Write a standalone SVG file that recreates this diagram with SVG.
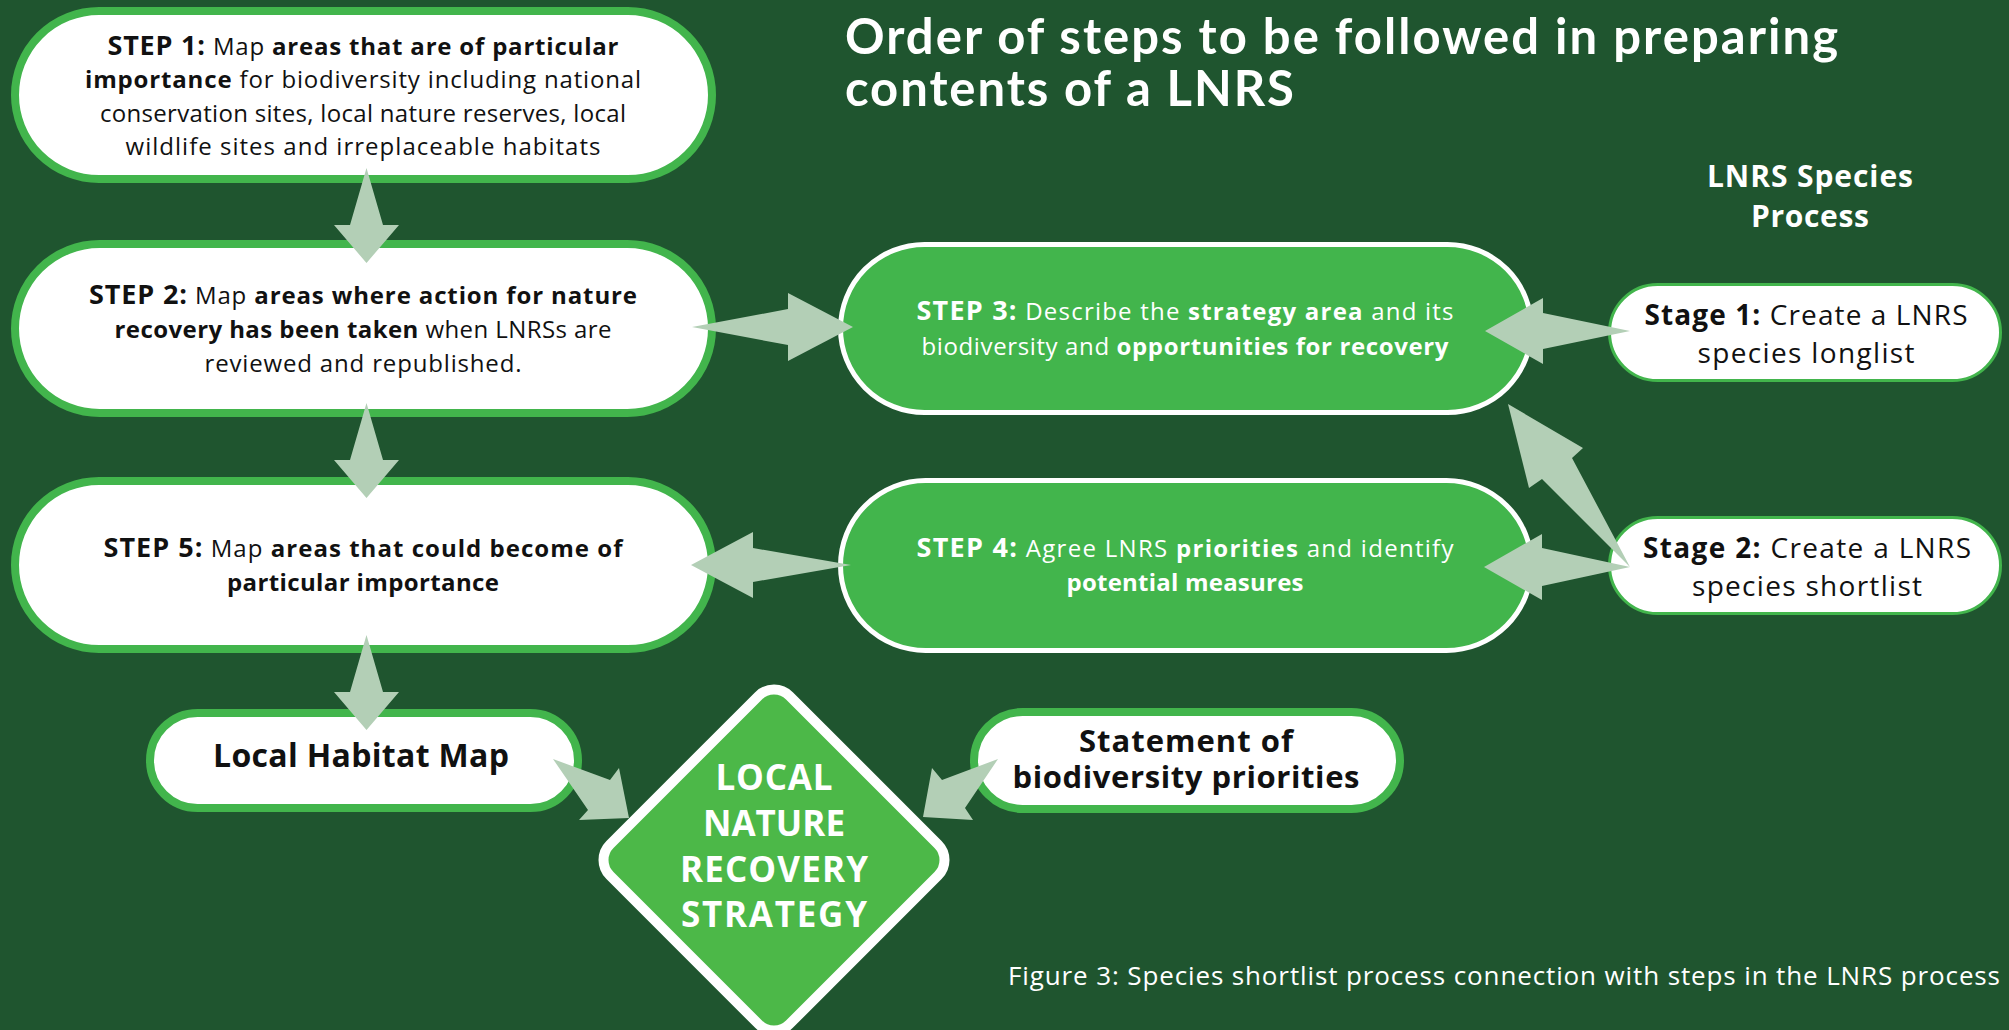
<svg xmlns="http://www.w3.org/2000/svg" width="2009" height="1030" viewBox="0 0 2009 1030">
<style>
text{font-family:"Open Sans",Lato,"Liberation Sans",sans-serif;}
.b{font-weight:bold;}
.wpill{fill:#ffffff;stroke:#42b54c;stroke-width:8;}
.gpill{fill:#42b54c;stroke:#ffffff;stroke-width:5;}
.spill{fill:#ffffff;stroke:#42b54c;stroke-width:3;}
.body{font-size:24px;fill:#111111;text-anchor:middle;}
.bodyw{font-size:24px;fill:#ffffff;text-anchor:middle;}
.lab{font-size:27px;font-weight:bold;}
.stage{font-size:28px;fill:#111111;text-anchor:middle;}
.big{font-size:32px;font-weight:bold;text-anchor:middle;}
.dia{font-size:35px;font-weight:bold;text-anchor:middle;fill:#ffffff;}
.arr{fill:#b3cfb6;}
</style>
<rect x="0" y="0" width="2009" height="1030" fill="#1f552f"/>
<text x="845" y="54" font-size="49" font-weight="bold" fill="#ffffff" style="font-family:Lato,'Open Sans',sans-serif" textLength="993" lengthAdjust="spacing">Order of steps to be followed in preparing</text>
<text x="845" y="106" font-size="49" font-weight="bold" fill="#ffffff" style="font-family:Lato,'Open Sans',sans-serif" textLength="449" lengthAdjust="spacing">contents of a LNRS</text>
<text x="1810" y="187" font-size="30" font-weight="bold" fill="#ffffff" text-anchor="middle" textLength="206" lengthAdjust="spacing">LNRS Species</text>
<text x="1810" y="227" font-size="30" font-weight="bold" fill="#ffffff" text-anchor="middle" textLength="118" lengthAdjust="spacing">Process</text>
<g id="step1">
<rect class="wpill" x="15" y="11" width="697" height="168" rx="84"/>
<text class="body" x="363" y="55" textLength="511" lengthAdjust="spacing"><tspan class="lab">STEP 1:</tspan> Map <tspan class="b">areas that are of particular</tspan></text>
<text class="body" x="363" y="88" textLength="556" lengthAdjust="spacing"><tspan class="b">importance</tspan> for biodiversity including national</text>
<text class="body" x="363" y="122" textLength="526" lengthAdjust="spacing">conservation sites, local nature reserves, local</text>
<text class="body" x="363" y="155" textLength="475" lengthAdjust="spacing">wildlife sites and irreplaceable habitats</text>
</g>
<g id="step2">
<rect class="wpill" x="15" y="244" width="697" height="169" rx="84.5"/>
<text class="body" x="363" y="304" textLength="548" lengthAdjust="spacing"><tspan class="lab">STEP 2:</tspan> Map <tspan class="b">areas where action for nature</tspan></text>
<text class="body" x="363" y="338" textLength="497" lengthAdjust="spacing"><tspan class="b">recovery has been taken</tspan> when LNRSs are</text>
<text class="body" x="363" y="372" textLength="317" lengthAdjust="spacing">reviewed and republished.</text>
</g>
<g id="step5">
<rect class="wpill" x="15" y="481" width="697" height="168" rx="84"/>
<text class="body" x="363" y="557" textLength="519" lengthAdjust="spacing"><tspan class="lab">STEP 5:</tspan> Map <tspan class="b">areas that could become of</tspan></text>
<text class="body" x="363" y="591" textLength="272" lengthAdjust="spacing"><tspan class="b">particular importance</tspan></text>
</g>
<g id="step3">
<rect class="gpill" x="840.5" y="244.5" width="691" height="168" rx="84"/>
<text class="bodyw" x="1185" y="320" textLength="537" lengthAdjust="spacing"><tspan class="lab">STEP 3:</tspan> Describe the <tspan class="b">strategy area</tspan> and its</text>
<text class="bodyw" x="1185" y="355" textLength="527" lengthAdjust="spacing">biodiversity and <tspan class="b">opportunities for recovery</tspan></text>
</g>
<g id="step4">
<rect class="gpill" x="840.5" y="480.5" width="691" height="170" rx="85"/>
<text class="bodyw" x="1185" y="557" textLength="537" lengthAdjust="spacing"><tspan class="lab">STEP 4:</tspan> Agree LNRS <tspan class="b">priorities</tspan> and identify</text>
<text class="bodyw" x="1185" y="591" textLength="237" lengthAdjust="spacing"><tspan class="b">potential measures</tspan></text>
</g>
<g id="stage1">
<rect class="spill" x="1609.5" y="284.5" width="391" height="96" rx="48"/>
<text class="stage" x="1806" y="325" textLength="323" lengthAdjust="spacing"><tspan class="b">Stage 1:</tspan> Create a LNRS</text>
<text class="stage" x="1806" y="363" textLength="217" lengthAdjust="spacing">species longlist</text>
</g>
<g id="stage2">
<rect class="spill" x="1609.5" y="517.5" width="391" height="96" rx="48"/>
<text class="stage" x="1807" y="558" textLength="328" lengthAdjust="spacing"><tspan class="b">Stage 2:</tspan> Create a LNRS</text>
<text class="stage" x="1807" y="596" textLength="230" lengthAdjust="spacing">species shortlist</text>
</g>
<g id="habitatmap">
<rect class="wpill" x="150" y="713" width="428" height="95" rx="47.5"/>
<text class="big" x="361" y="767" fill="#111111" textLength="296" lengthAdjust="spacing">Local Habitat Map</text>
</g>
<g id="statement">
<rect class="wpill" x="974" y="712" width="426" height="97" rx="48.5"/>
<text class="big" x="1186" y="752" fill="#111111" font-size="31" style="font-size:31px" textLength="214" lengthAdjust="spacing">Statement of</text>
<text class="big" x="1186" y="788" fill="#111111" font-size="31" style="font-size:31px" textLength="347" lengthAdjust="spacing">biodiversity priorities</text>
</g>
<g id="lnrs">
<rect x="647" y="733" width="254" height="254" rx="22" transform="rotate(45 774 860)" fill="#4cb848" stroke="#ffffff" stroke-width="10"/>
<text class="dia" x="774" y="790" textLength="117" lengthAdjust="spacing">LOCAL</text>
<text class="dia" x="774" y="836" textLength="142" lengthAdjust="spacing">NATURE</text>
<text class="dia" x="774" y="882" textLength="188" lengthAdjust="spacing">RECOVERY</text>
<text class="dia" x="774" y="927" textLength="186" lengthAdjust="spacing">STRATEGY</text>
</g>
<g id="connectors">
<polygon class="arr" points="366.5,168 383,225 399,225 366.5,263 334,225 350,225"/>
<polygon class="arr" points="366.5,403 383,460 399,460 366.5,498 334,460 350,460"/>
<polygon class="arr" points="366.5,635 383,692 399,692 366.5,730 334,692 350,692"/>
<polygon class="arr" points="692,327 788,309 788,293 853,327 788,361 788,345"/>
<polygon class="arr" points="691,565 753,532 753,548 851,565 753,582 753,598"/>
<polygon class="arr" points="1485,331 1543,298 1543,313 1630,331 1543,349 1543,364"/>
<polygon class="arr" points="1484,567 1542,534 1542,548 1630,567 1542,586 1542,600"/>
<polygon class="arr" points="1508,404 1583,448 1572,458 1630,567 1542,479 1529,488"/>
<polygon class="arr" points="553,759 610,780 619,768 629,818 579,820 588,810"/>
<polygon class="arr" points="998,759 942,780 932,768 923,817 973,820 965,808"/>
</g>
<text x="1008" y="985" font-size="26" fill="#ffffff" textLength="992" lengthAdjust="spacing">Figure 3: Species shortlist process connection with steps in the LNRS process</text>
</svg>
